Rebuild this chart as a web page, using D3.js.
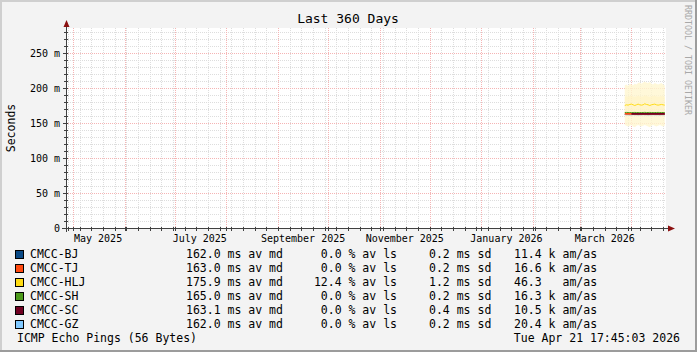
<!DOCTYPE html>
<html>
<head>
<meta charset="utf-8">
<script src="https://cdn.jsdelivr.net/npm/d3@7"></script>
<style>
  body { margin: 0; background: #f3f3f3; }
  text { font-family: "DejaVu Sans Mono", monospace; }
</style>
</head>
<body>
<svg id="chart"></svg>
<script>
// time span shown (last 360 days up to the graph timestamp)
const spanStart = new Date(2025, 3, 26, 17, 45, 3);
const spanEnd = new Date(2026, 3, 21, 17, 45, 3);

const days = ["2026-03-28", "2026-03-29", "2026-03-30", "2026-03-31", "2026-04-01",
  "2026-04-02", "2026-04-03", "2026-04-04", "2026-04-05", "2026-04-06", "2026-04-07",
  "2026-04-08", "2026-04-09", "2026-04-10", "2026-04-11", "2026-04-12", "2026-04-13",
  "2026-04-14", "2026-04-15", "2026-04-16", "2026-04-17", "2026-04-18", "2026-04-19",
  "2026-04-20", "2026-04-21"];

// median rtt in ms per day
const bj  = [162.1, 162.0, 162.0, 161.9, 162.0, 162.1, 162.0, 162.0, 161.9, 162.0, 162.0, 162.1, 162.0,
  162.0, 161.9, 162.0, 162.0, 162.1, 162.0, 162.0, 162.0, 161.9, 162.0, 162.0, 162.0];
const tj  = [163.2, 163.0, 163.1, 163.0, 163.0, 162.9, 163.0, 163.0, 163.1, 163.0, 163.0, 163.0, 162.9,
  163.0, 163.0, 163.1, 163.0, 163.0, 163.0, 162.9, 163.0, 163.0, 163.1, 163.0, 163.0];
const hlj = [175.0, 176.0, 175.5, 176.5, 177.0, 176.0, 175.0, 176.0, 177.0, 176.0, 175.5, 176.0, 177.5,
  176.5, 176.0, 175.0, 176.0, 176.5, 177.0, 176.0, 175.5, 176.0, 176.5, 176.0, 175.5];
const hljLow  = [147, 146, 145, 146, 147, 145, 144, 146, 147, 146, 145, 146, 147,
  146, 145, 144, 146, 147, 146, 145, 146, 147, 146, 145, 146];
const hljHigh = [204, 205, 203, 206, 205, 204, 206, 205, 207, 208, 206, 208, 209,
  208, 207, 209, 206, 205, 207, 206, 205, 206, 207, 205, 204];
const sh  = [165.0, 165.1, 165.0, 164.9, 165.0, 165.0, 165.1, 165.0, 165.0, 164.9, 165.0, 165.0, 165.2,
  165.0, 165.0, 165.1, 165.0, 164.9, 165.0, 165.0, 165.1, 165.0, 165.0, 165.0, 165.0];
const sc  = [null, null, null, null, 163.1, 163.2, 163.1, 163.0, 163.1, 163.1, 163.2, 163.1, 163.0,
  163.1, 163.1, 163.2, 163.1, 163.0, 163.1, 163.1, 163.1, 163.2, 163.1, 163.0, 163.1];
const gz  = [162.0, 162.1, 162.0, 162.0, 161.9, 162.0, 162.0, 162.1, 162.0, 162.0, 161.9, 162.0, 162.0,
  162.1, 162.0, 162.0, 162.0, 161.9, 162.0, 162.0, 162.1, 162.0, 162.0, 162.0, 162.0];

const hosts  = ["CMCC-BJ", "CMCC-TJ", "CMCC-HLJ", "CMCC-SH", "CMCC-SC", "CMCC-GZ"];
const colors = ["#0a4a86", "#ff4a10", "#ffdc14", "#4c9a1c", "#700022", "#80c8ff"];
const medTxt  = ["162.0", "163.0", "175.9", "165.0", "163.1", "162.0"];
const lossTxt = ["0.0", "0.0", "12.4", "0.0", "0.0", "0.0"];
const sdTxt   = ["0.2", "0.2", "1.2", "0.2", "0.4", "0.2"];
const amTxt   = ["11.4 k", "16.6 k", "46.3  ", "16.3 k", "10.5 k", "20.4 k"];

const yTicks = [0, 50, 100, 150, 200, 250];
const yLabels = ["0", "50 m", "100 m", "150 m", "200 m", "250 m"];
const monthLabels = ["May 2025", "July 2025", "September 2025", "November 2025", "January 2026", "March 2026"];
const monthLabelDays = ["2025-05-16", "2025-07-16", "2025-09-16", "2025-11-16", "2026-01-16", "2026-03-16"];

const W = 697, H = 352;
const parse = d3.timeParse("%Y-%m-%d");
const dates = days.map(parse);

const svg = d3.select("#chart").attr("width", W).attr("height", H);

const x = d3.scaleTime().domain([spanStart, spanEnd]).range([66, 666]);
const y = d3.scaleLinear().domain([0, 200 / 0.7]).range([228, 28]);
const px = v => Math.round(v) + 0.5;

// canvas with bevel border
svg.append("rect").attr("width", W).attr("height", H).attr("fill", "#f3f3f3");
svg.append("path").attr("d", `M1,${H} V1 H${W}`).attr("stroke", "#cfcfcf").attr("stroke-width", 2).attr("fill", "none");
svg.append("path").attr("d", `M0,${H - 1} H${W - 1} V0`).attr("stroke", "#9c9c9c").attr("stroke-width", 2).attr("fill", "none");

// plot area
svg.append("rect").attr("x", 66).attr("y", 28).attr("width", 600).attr("height", 200).attr("fill", "#ffffff");

const grid = svg.append("g");
const minorCol = "#dddddd", majorCol = "#f5b4b4";
// minor horizontal grid every 10 ms
grid.selectAll(".hmin").data(d3.range(10, 290, 10).filter(v => v % 50 !== 0)).enter().append("line")
  .attr("x1", 66).attr("x2", 666)
  .attr("y1", d => px(y(d))).attr("y2", d => px(y(d)))
  .attr("stroke", minorCol).attr("stroke-dasharray", "1,1");
// weekly minor vertical grid
const weeks = d3.timeMonday.range(spanStart, spanEnd);
grid.selectAll(".vmin").data(weeks).enter().append("line")
  .attr("x1", d => px(x(d))).attr("x2", d => px(x(d)))
  .attr("y1", 28).attr("y2", 228)
  .attr("stroke", minorCol).attr("stroke-dasharray", "1,1");
// monthly major vertical grid
const months = d3.timeMonth.range(spanStart, spanEnd);
grid.selectAll(".vmaj").data(months).enter().append("line")
  .attr("x1", d => px(x(d))).attr("x2", d => px(x(d)))
  .attr("y1", 28).attr("y2", 228)
  .attr("stroke", majorCol).attr("stroke-dasharray", "1,1");
// major horizontal grid
grid.selectAll(".hmaj").data(yTicks.slice(1)).enter().append("line")
  .attr("x1", 66).attr("x2", 666)
  .attr("y1", d => px(y(d))).attr("y2", d => px(y(d)))
  .attr("stroke", majorCol).attr("stroke-dasharray", "1,1");

// smoke band for HLJ
const area = d3.area()
  .x((d, i) => x(dates[i]))
  .y0((d, i) => y(hljLow[i]))
  .y1((d, i) => y(hljHigh[i]));
svg.append("path").datum(hlj).attr("d", area).attr("fill", "#fff6cf").attr("opacity", 0.8);
const inner = d3.area()
  .x((d, i) => x(dates[i]))
  .y0(d => y(d - 12))
  .y1(d => y(d + 12));
svg.append("path").datum(hlj).attr("d", inner).attr("fill", "#fff2c0").attr("opacity", 0.5);

// median lines, drawn so that TJ shows at the start and SC on top
const line = d3.line()
  .defined(d => d != null)
  .x((d, i) => x(dates[i]))
  .y(d => y(d));
const series = [bj, gz, hlj, sh, tj, sc];
const seriesColors = [colors[0], colors[5], colors[2], colors[3], colors[1], colors[4]];
svg.selectAll(".med").data(series).enter().append("path")
  .attr("d", d => line(d))
  .attr("fill", "none")
  .attr("stroke", (d, i) => seriesColors[i])
  .attr("stroke-width", (d, i) => i >= 4 ? 1.6 : 1);

// axes
const axisColor = "#404040";
const axes = svg.append("g");
axes.append("line").attr("x1", 66.5).attr("x2", 66.5).attr("y1", 24).attr("y2", 232).attr("stroke", axisColor);
axes.append("line").attr("x1", 62).attr("x2", 670).attr("y1", 228.5).attr("y2", 228.5).attr("stroke", axisColor);
axes.append("path").attr("d", "M63.5,27 L66.5,20 L69.5,27 Z").attr("fill", "#8b1010");
axes.append("path").attr("d", "M668,225.5 L675,228.5 L668,231.5 Z").attr("fill", "#8b1010");
// y ticks
axes.selectAll(".yt").data(d3.range(0, 290, 10)).enter().append("line")
  .attr("x1", d => d % 50 === 0 ? 63 : 64).attr("x2", 68)
  .attr("y1", d => px(y(d))).attr("y2", d => px(y(d)))
  .attr("stroke", axisColor);
// x ticks
axes.selectAll(".xt").data(weeks.concat(months)).enter().append("line")
  .attr("x1", d => px(x(d))).attr("x2", d => px(x(d)))
  .attr("y1", 227).attr("y2", 231)
  .attr("stroke", axisColor);

// tick labels
svg.selectAll(".yl").data(yTicks).enter().append("text")
  .attr("x", 60).attr("y", d => y(d) + 3.5)
  .attr("text-anchor", "end").attr("font-size", 10).attr("fill", "#000")
  .text((d, i) => yLabels[i]);
svg.selectAll(".xl").data(monthLabelDays).enter().append("text")
  .attr("x", d => x(parse(d))).attr("y", 241.5)
  .attr("text-anchor", "middle").attr("font-size", 10).attr("fill", "#000")
  .text((d, i) => monthLabels[i]);

// titles
svg.append("text").attr("x", 348).attr("y", 22.5).attr("text-anchor", "middle")
  .attr("font-size", 13).text("Last 360 Days");
svg.append("text").attr("transform", "translate(15,128) rotate(-90)").attr("text-anchor", "middle")
  .attr("font-size", 11.5).text("Seconds");
svg.append("text").attr("transform", "translate(685,5) rotate(90)")
  .attr("font-size", 8.3).attr("fill", "#a8a8a8").text("RRDTOOL / TOBI OETIKER");

// legend
const legend = svg.append("g").attr("font-size", 11.5).attr("fill", "#000");
const rowY = i => 258 + i * 14;
hosts.forEach((h, i) => {
  legend.append("rect").attr("x", 15.5).attr("y", rowY(i) - 7.5).attr("width", 8).attr("height", 8)
    .attr("fill", colors[i]).attr("stroke", "#000").attr("stroke-width", 1);
  legend.append("text").attr("x", 30).attr("y", rowY(i)).text(h);
  legend.append("text").attr("x", 186).attr("y", rowY(i)).text(medTxt[i] + " ms av md");
  legend.append("text").attr("x", 397).attr("y", rowY(i)).attr("text-anchor", "end").text(lossTxt[i] + " % av ls");
  legend.append("text").attr("x", 429).attr("y", rowY(i)).text(sdTxt[i] + " ms sd");
  legend.append("text").attr("x", 514).attr("y", rowY(i)).attr("xml:space", "preserve")
    .style("white-space", "pre").text(amTxt[i] + " am/as");
});
legend.append("text").attr("x", 17).attr("y", rowY(6)).text("ICMP Echo Pings (56 Bytes)");
legend.append("text").attr("x", 680).attr("y", rowY(6)).attr("text-anchor", "end").text("Tue Apr 21 17:45:03 2026");
</script>
</body>
</html>
